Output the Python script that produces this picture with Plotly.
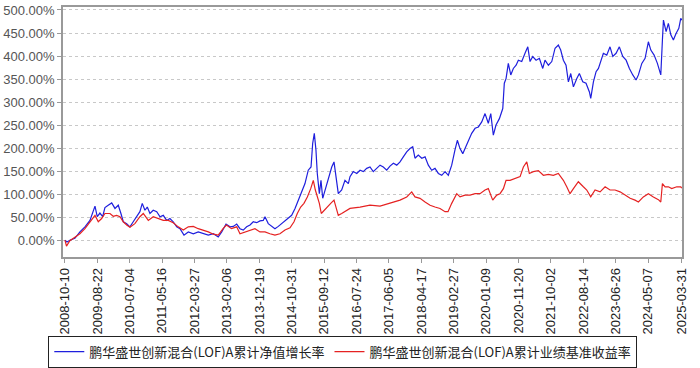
import plotly.graph_objects as go

# ---- data ----
fund_dates = [
    "2008-10-10","2008-10-30","2008-11-27","2009-01-15","2009-03-05","2009-04-23","2009-06-11","2009-07-13",
    "2009-07-30","2009-08-21","2009-09-16","2009-10-13","2009-11-04","2009-12-06","2010-01-09","2010-02-10",
    "2010-03-14","2010-04-09","2010-05-02","2010-06-04","2010-07-06","2010-08-07","2010-09-09","2010-10-11",
    "2010-11-03","2010-11-29","2010-12-22","2011-01-17","2011-02-18","2011-03-24","2011-04-25","2011-05-27",
    "2011-06-29","2011-07-31","2011-09-01","2011-10-05","2011-11-06","2011-12-15","2012-01-26","2012-03-15",
    "2012-05-02","2012-06-20","2012-08-08","2012-09-26","2012-11-13","2012-12-17","2013-01-28","2013-03-08",
    "2013-04-09","2013-05-12","2013-06-13","2013-07-15","2013-08-17","2013-09-19","2013-10-21","2013-11-23",
    "2013-12-25","2014-01-26","2014-02-12","2014-03-16","2014-04-18","2014-05-20","2014-06-22","2014-07-25",
    "2014-08-26","2014-09-27","2014-10-30","2014-12-02","2015-01-03","2015-02-05","2015-03-09","2015-04-10",
    "2015-05-07","2015-05-23","2015-06-08","2015-06-24","2015-07-07","2015-07-27","2015-08-12","2015-08-29",
    "2015-09-20","2015-10-23","2015-11-25","2015-12-17","2016-01-06","2016-01-28","2016-03-01","2016-04-02",
    "2016-05-05","2016-05-21","2016-06-22","2016-07-26","2016-08-27","2016-09-28","2016-10-31","2016-12-02",
    "2017-01-03","2017-02-06","2017-03-10","2017-04-11","2017-05-14","2017-06-15","2017-07-18","2017-08-20",
    "2017-09-21","2017-10-23","2017-11-25","2017-12-27","2018-01-23","2018-02-14","2018-03-18","2018-04-21",
    "2018-05-23","2018-06-24","2018-07-27","2018-08-28","2018-09-30","2018-11-02","2018-12-04","2019-01-05",
    "2019-02-07","2019-03-11","2019-04-03","2019-04-29","2019-05-26","2019-06-17","2019-07-19","2019-08-21",
    "2019-09-23","2019-10-25","2019-11-27","2019-12-29","2020-01-30","2020-02-23","2020-03-19","2020-04-14",
    "2020-05-17","2020-06-19","2020-07-04","2020-07-21","2020-08-12","2020-09-05","2020-09-30","2020-10-27",
    "2020-11-18","2020-12-21","2021-01-22","2021-02-18","2021-03-12","2021-04-07","2021-05-10","2021-06-11",
    "2021-07-14","2021-08-05","2021-09-07","2021-10-10","2021-11-11","2021-12-13","2022-01-05","2022-01-31",
    "2022-02-26","2022-03-21","2022-04-13","2022-05-09","2022-06-11","2022-07-06","2022-08-08","2022-09-09",
    "2022-10-12","2022-10-25","2022-11-20","2022-12-16","2023-01-08","2023-01-31","2023-02-25","2023-03-30",
    "2023-05-01","2023-05-28","2023-06-29","2023-07-31","2023-09-02","2023-10-05","2023-11-06","2023-12-09",
    "2024-01-10","2024-02-02","2024-03-06","2024-04-07","2024-05-09","2024-06-02","2024-07-04","2024-08-05",
    "2024-09-07","2024-09-23","2024-10-03","2024-10-29","2024-11-20","2024-12-14","2025-01-08","2025-02-03",
    "2025-03-02","2025-03-21","2025-03-31",
]
fund_values = [
    0, -4, 0, 4, 18, 29, 43, 62,
    74, 51, 59, 51, 71, 76, 81, 69,
    76, 58, 40, 36, 29, 40, 51, 62,
    80, 65, 72, 58, 65, 62, 51, 54,
    43, 47, 40, 29, 25, 11, 18, 14,
    18, 14, 11, 14, 7, 18, 35, 29,
    30, 35, 25, 22, 29, 33, 40, 38,
    42, 43, 51, 36, 30, 25, 30, 36,
    43, 49, 54, 69, 87, 109, 123, 152,
    159, 210, 232, 196, 145, 101, 130, 91,
    109, 138, 159, 170, 138, 101, 109, 130,
    123, 138, 149, 145, 152, 149, 156, 159,
    149, 156, 163, 159, 152, 161, 167, 163,
    170, 181, 192, 199, 203, 178, 185, 178,
    181, 163, 152, 156, 145, 141, 149, 141,
    163, 196, 217, 199, 188, 199, 217, 232,
    243, 246, 257, 275, 254, 275, 228, 250,
    264, 286, 341, 351, 384, 359, 373, 380,
    391, 388, 406, 420, 388, 399, 391, 395,
    373, 391, 380, 388, 417, 424, 413, 391,
    380, 344, 362, 333, 351, 362, 344, 341,
    322, 308, 344, 366, 373, 391, 406, 402,
    420, 399, 406, 420, 399, 391, 373, 359,
    348, 359, 384, 395, 431, 413, 402, 384,
    359, 435, 478, 453, 471, 446, 435, 449,
    460, 482, 478,
]

bench_dates = [
    "2008-10-10","2008-10-25","2008-11-27","2009-01-15","2009-03-05","2009-04-23","2009-06-11","2009-07-30",
    "2009-08-31","2009-10-03","2009-11-04","2009-12-23","2010-01-24","2010-02-26","2010-03-31","2010-05-02",
    "2010-06-04","2010-07-06","2010-08-23","2010-10-11","2010-11-13","2011-01-01","2011-02-18","2011-04-08",
    "2011-05-27","2011-07-15","2011-09-01","2011-10-20","2011-12-08","2012-01-26","2012-03-15","2012-05-02",
    "2012-06-20","2012-08-08","2012-09-26","2012-11-13","2012-12-30","2013-02-01","2013-03-22","2013-05-12",
    "2013-06-13","2013-08-01","2013-09-19","2013-11-06","2013-12-25","2014-02-12","2014-04-01","2014-05-20",
    "2014-07-08","2014-08-26","2014-10-14","2014-11-22","2014-12-24","2015-01-26","2015-02-27","2015-04-01",
    "2015-05-04","2015-05-29","2015-06-18","2015-07-07","2015-07-27","2015-08-15","2015-09-11","2015-10-13",
    "2015-11-15","2015-12-17","2016-01-06","2016-01-28","2016-03-01","2016-04-02","2016-05-21","2016-08-27",
    "2016-12-02","2017-03-10","2017-06-15","2017-09-21","2017-11-25","2018-01-13","2018-02-14","2018-04-04",
    "2018-05-23","2018-07-11","2018-08-28","2018-10-16","2018-12-04","2019-01-02","2019-02-07","2019-03-28",
    "2019-04-29","2019-06-17","2019-08-05","2019-09-23","2019-11-10","2019-12-29","2020-01-30","2020-03-13",
    "2020-04-21","2020-05-23","2020-06-25","2020-07-21","2020-08-29","2020-10-17","2020-12-05","2021-01-06",
    "2021-02-08","2021-03-05","2021-04-13","2021-06-01","2021-07-20","2021-09-07","2021-10-25","2021-12-13",
    "2022-01-31","2022-03-05","2022-04-06","2022-05-09","2022-06-26","2022-08-14","2022-09-16","2022-10-25",
    "2022-12-06","2023-01-24","2023-03-14","2023-05-01","2023-06-19","2023-08-07","2023-09-25","2023-11-13",
    "2023-12-31","2024-02-02","2024-03-21","2024-05-09","2024-06-27","2024-08-15","2024-09-07","2024-09-23",
    "2024-10-19","2024-11-20","2024-12-23","2025-02-10","2025-03-21","2025-03-31",
]
bench_values = [
    0, -13, -1, 7, 14, 25, 40, 54,
    40, 47, 58, 58, 52, 54, 51, 40,
    33, 28, 36, 51, 58, 43, 51, 47,
    43, 43, 38, 29, 22, 29, 30, 25,
    22, 18, 13, 11, 25, 33, 25, 29,
    14, 18, 22, 25, 18, 18, 14, 11,
    14, 22, 27, 40, 58, 72, 80, 94,
    112, 130, 109, 94, 80, 58, 65, 72,
    80, 87, 72, 54, 58, 62, 69, 72,
    76, 74, 80, 87, 94, 105, 94, 91,
    83, 76, 72, 69, 62, 62, 80, 101,
    94, 98, 98, 101, 101, 109, 112, 87,
    98, 101, 112, 130, 130, 134, 138, 159,
    170, 145, 149, 151, 141, 143, 141, 145,
    130, 116, 101, 112, 127, 116, 109, 94,
    109, 105, 116, 109, 109, 105, 98, 91,
    87, 83, 94, 101, 94, 88, 83, 123,
    116, 116, 112, 116, 116, 113,
]

tick_dates = [
    "2008-10-10","2009-08-22","2010-07-04","2011-05-16","2012-03-27","2013-02-06","2013-12-19",
    "2014-10-31","2015-09-12","2016-07-24","2017-06-05","2018-04-17","2019-02-27","2020-01-09",
    "2020-11-20","2021-10-02","2022-08-14","2023-06-26","2024-05-07","2025-03-31",
]
y_ticks = [0, 50, 100, 150, 200, 250, 300, 350, 400, 450, 500]
y_tick_labels = [f"{v:.2f}%" for v in y_ticks]

fund_name = "鹏华盛世创新混合(LOF)A累计净值增长率"
bench_name = "鹏华盛世创新混合(LOF)A累计业绩基准收益率"

CJK = "Noto Sans CJK SC, sans-serif"
LAT = "Liberation Sans, Arial, sans-serif"

fig = go.Figure()
fig.add_trace(go.Scatter(x=fund_dates, y=fund_values, mode="lines", name=fund_name,
                         line=dict(color="#1f1fdd", width=1.2)))
fig.add_trace(go.Scatter(x=bench_dates, y=bench_values, mode="lines", name=bench_name,
                         line=dict(color="#e52222", width=1.2)))

fig.update_layout(
    width=700, height=368,
    margin=dict(l=63, r=18, t=7, b=111, autoexpand=False),
    paper_bgcolor="white", plot_bgcolor="white",
    font=dict(family=CJK, size=12, color="#333"),
    showlegend=True,
    legend=dict(orientation="h", x=0.452, xanchor="center", y=-0.315, yanchor="top",
                bordercolor="#222", borderwidth=1, font=dict(family=CJK, size=13, color="#222"),
                itemwidth=30, tracegroupgap=0, bgcolor="white"),
)
fig.update_xaxes(
    type="date", range=["2008-09-21", "2025-04-02"], automargin=False,
    tickmode="array", tickvals=tick_dates, ticktext=tick_dates, tickangle=-90,
    tickfont=dict(family=LAT, size=13, color="#222"),
    showgrid=False, zeroline=False,
    showline=True, linecolor="#999", linewidth=1.5, mirror=True,
    ticks="outside", ticklen=4, tickcolor="#999",
)
fig.update_yaxes(
    range=[-36.5, 506.5], automargin=False,
    tickmode="array", tickvals=y_ticks, ticktext=y_tick_labels,
    tickfont=dict(family=LAT, size=13, color="#555"),
    showgrid=True, gridcolor="#c8c8c8", griddash="dot", gridwidth=1,
    zeroline=False,
    showline=True, linecolor="#999", linewidth=1.5, mirror=True,
    ticks="outside", ticklen=4, tickcolor="#999",
)

fig.write_html(
    "out.html",
    config={"displayModeBar": False},
    post_script="document.body.style.margin='0';document.body.style.overflow='hidden';",
)
